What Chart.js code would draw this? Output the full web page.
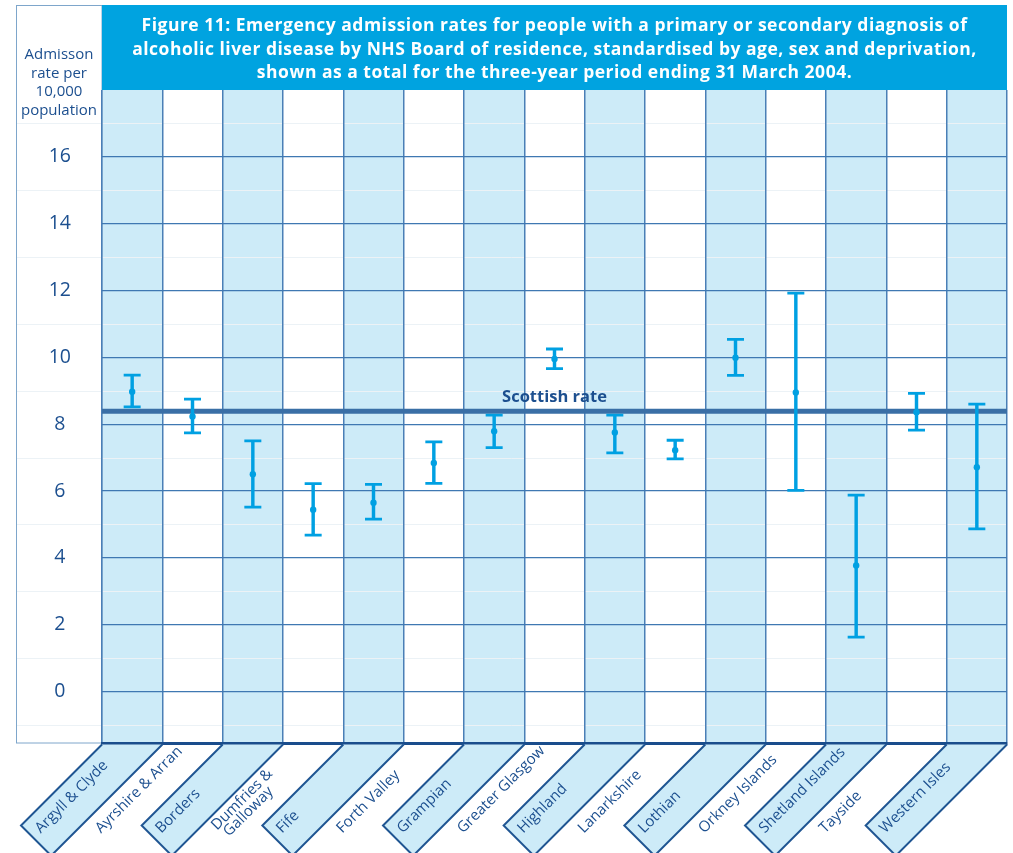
<!DOCTYPE html>
<html>
<head>
<meta charset="utf-8">
<title>Emergency admission rates – alcoholic liver disease</title>
<script src="https://cdn.jsdelivr.net/npm/chart.js@4.4.1/dist/chart.umd.min.js"></script>
<style>
  html, body { margin: 0; padding: 0; background: #ffffff; }
  #wrap { width: 1013px; height: 853px; position: relative; }
</style>
</head>
<body>
<div id="wrap"><canvas id="chart" width="1013" height="853"></canvas></div>
<script>
// NHS Boards (one column each)
const boards = [
  'Argyll & Clyde', 'Ayrshire & Arran', 'Borders', ['Dumfries &', 'Galloway'], 'Fife',
  'Forth Valley', 'Grampian', 'Greater Glasgow', 'Highland', 'Lanarkshire',
  'Lothian', 'Orkney Islands', 'Shetland Islands', 'Tayside', 'Western Isles'
];
// Standardised admission rate per 10,000 population
const rate  = [8.97, 8.23, 6.50, 5.44, 5.65, 6.84, 7.79, 9.95, 7.75, 7.22, 9.99, 8.95, 3.77, 8.36, 6.71];
// 95% confidence limits
const upper = [9.47, 8.75, 7.50, 6.22, 6.20, 7.47, 8.27, 10.25, 8.27, 7.52, 10.54, 11.92, 5.88, 8.92, 8.60];
const lower = [8.52, 7.74, 5.52, 4.68, 5.16, 6.23, 7.30, 9.66, 7.14, 6.96, 9.46, 6.02, 1.63, 7.82, 4.87];
// Rate for Scotland as a whole
const scottishRate = 8.39;
// Labelled values on the rate axis
const yTicks = [0, 2, 4, 6, 8, 10, 12, 14, 16];
const yMinorTicks = [-1, 1, 3, 5, 7, 9, 11, 13, 15, 17];

const titleLines = [
  'Figure 11: Emergency admission rates for people with a primary or secondary diagnosis of',
  'alcoholic liver disease by NHS Board of residence, standardised by age, sex and deprivation,',
  'shown as a total for the three-year period ending 31 March 2004.'
];
const axisTitleLines = ['Admisson', 'rate per', '10,000', 'population'];

const FONT = "'Open Sans', 'Noto Sans', 'DejaVu Sans', sans-serif";
const CYAN = '#00a0e2';
const PALE = '#cdebf8';
const HEAD = '#00a3e0';
const NAVY = '#1c4f8f';
const EDGE = '#1f5592';

// Shaded columns, faint half-step lines, axis-label box and heading panel
const backdrop = {
  id: 'backdrop',
  beforeDraw(chart) {
    const { ctx, chartArea: ca, scales: { x, y } } = chart;
    const half = (x.getPixelForValue(1) - x.getPixelForValue(0)) / 2;
    ctx.save();
    ctx.fillStyle = '#ffffff';
    ctx.fillRect(0, 0, chart.width, chart.height);

    ctx.fillStyle = PALE;
    boards.forEach((b, i) => {
      if (i % 2 === 0) {
        const cx = x.getPixelForValue(i);
        ctx.fillRect(cx - half, ca.top, half * 2, ca.bottom - ca.top);
      }
    });

    ctx.strokeStyle = '#ecf2f6';
    ctx.lineWidth = 1;
    yMinorTicks.forEach(v => {
      const py = Math.round(y.getPixelForValue(v)) + 0.5;
      ctx.beginPath();
      ctx.moveTo(16, py);
      ctx.lineTo(ca.right, py);
      ctx.stroke();
    });

    // box around the axis labels
    ctx.strokeStyle = '#7ea6cb';
    ctx.lineWidth = 1;
    ctx.strokeRect(16.5, 5.5, ca.left - 16.5, ca.bottom - 5.5);

    // heading panel
    ctx.fillStyle = HEAD;
    ctx.fillRect(ca.left, 5, ca.right - ca.left, ca.top - 5);
    ctx.fillStyle = '#ffffff';
    ctx.font = 'bold 17.5px ' + FONT;
    ctx.letterSpacing = '0.5px';
    ctx.textAlign = 'center';
    ctx.textBaseline = 'alphabetic';
    const mid = (ca.left + ca.right) / 2;
    titleLines.forEach((t, i) => ctx.fillText(t, mid, 31 + i * 23.5));
    ctx.letterSpacing = '0px';

    // rate axis title
    ctx.fillStyle = NAVY;
    ctx.font = '15px ' + FONT;
    axisTitleLines.forEach((t, i) => ctx.fillText(t, 59, 59 + i * 18.7));
    ctx.restore();
  }
};

// Scotland-wide reference line
const scotlandLine = {
  id: 'scotlandLine',
  beforeDatasetsDraw(chart) {
    const { ctx, chartArea: ca, scales: { x, y } } = chart;
    const py = y.getPixelForValue(scottishRate);
    ctx.save();
    ctx.strokeStyle = '#3a6fa6';
    ctx.lineWidth = 5;
    ctx.beginPath();
    ctx.moveTo(ca.left, py);
    ctx.lineTo(ca.right, py);
    ctx.stroke();
    ctx.fillStyle = NAVY;
    ctx.font = 'bold 16.5px ' + FONT;
    ctx.textAlign = 'center';
    ctx.textBaseline = 'alphabetic';
    ctx.fillText('Scottish rate', x.getPixelForValue(7), py - 9);
    ctx.restore();
  }
};

// Slanted name strips under each column
const boardStrips = {
  id: 'boardStrips',
  afterDraw(chart) {
    const { ctx, chartArea: ca, scales: { x } } = chart;
    const half = (x.getPixelForValue(1) - x.getPixelForValue(0)) / 2;
    const drop = 81;
    const r2 = Math.SQRT1_2;
    ctx.save();
    boards.forEach((name, i) => {
      const cx = x.getPixelForValue(i);
      const xl = cx - half, xr = cx + half, y0 = ca.bottom + 1.5;
      const w = xr - xl;
      const p4 = [xl - drop, y0 + drop];
      const p3 = [p4[0] + w / 2, p4[1] + w / 2];
      if (i % 2 === 0) {
        ctx.beginPath();
        ctx.moveTo(xl, y0);
        ctx.lineTo(p4[0], p4[1]);
        ctx.lineTo(p3[0], p3[1]);
        ctx.lineTo(xr, y0);
        ctx.closePath();
        ctx.fillStyle = PALE;
        ctx.fill();
        ctx.strokeStyle = EDGE;
        ctx.lineWidth = 2;
        ctx.beginPath();
        ctx.moveTo(xl, y0);
        ctx.lineTo(p4[0], p4[1]);
        ctx.lineTo(p3[0], p3[1]);
        ctx.lineTo(xr, y0);
        ctx.stroke();
      }
      const bx = (p3[0] + p4[0]) / 2, by = (p3[1] + p4[1]) / 2;
      const u = 8;
      ctx.save();
      ctx.translate(bx + u * r2, by - u * r2);
      ctx.rotate(-Math.PI / 4);
      ctx.fillStyle = NAVY;
      ctx.font = '15px ' + FONT;
      ctx.textAlign = 'left';
      ctx.textBaseline = 'alphabetic';
      if (Array.isArray(name)) {
        ctx.fillText(name[0], -1, -7);
        ctx.fillText(name[1], 3, 6);
      } else {
        ctx.fillText(name, 0, -1.5);
      }
      ctx.restore();
    });
    ctx.restore();
  }
};

new Chart(document.getElementById('chart'), {
  type: 'bar',
  data: {
    labels: boards,
    datasets: [
      {
        type: 'line', label: 'Rate', data: rate, showLine: false,
        pointStyle: 'circle', pointRadius: 3.2, pointBackgroundColor: CYAN,
        pointBorderWidth: 0, order: 0
      },
      {
        type: 'line', label: 'Upper limit', data: upper, showLine: false,
        pointStyle: 'line', pointRadius: 8.5, pointBorderColor: CYAN,
        pointBorderWidth: 2.8, order: 1
      },
      {
        type: 'line', label: 'Lower limit', data: lower, showLine: false,
        pointStyle: 'line', pointRadius: 8.5, pointBorderColor: CYAN,
        pointBorderWidth: 2.8, order: 2
      },
      {
        type: 'bar', label: 'Interval', data: lower.map((lo, i) => [lo, upper[i]]),
        backgroundColor: CYAN, barThickness: 2.8, grouped: false, order: 3
      }
    ]
  },
  options: {
    responsive: false,
    devicePixelRatio: 1,
    animation: false,
    events: [],
    layout: { autoPadding: false, padding: { left: 16, right: 6, top: 90, bottom: 110 } },
    plugins: { legend: { display: false }, tooltip: { enabled: false }, title: { display: false } },
    scales: {
      x: {
        offset: true,
        grid: { offset: true, color: '#4a7fb6', lineWidth: 1.5, drawTicks: false },
        border: { display: true, color: '#1a4d8c', width: 3 },
        ticks: { display: false }
      },
      y: {
        min: -1.54,
        max: 18,
        afterBuildTicks: axis => { axis.ticks = yTicks.map(v => ({ value: v })); },
        afterFit: axis => { axis.width = 86; },
        grid: { color: '#3f78b2', lineWidth: 1.3, drawTicks: false },
        border: { display: false },
        ticks: { crossAlign: 'center', padding: 31, color: NAVY, font: { family: FONT, size: 19.5 } }
      }
    }
  },
  plugins: [backdrop, scotlandLine, boardStrips]
});
</script>
</body>
</html>
